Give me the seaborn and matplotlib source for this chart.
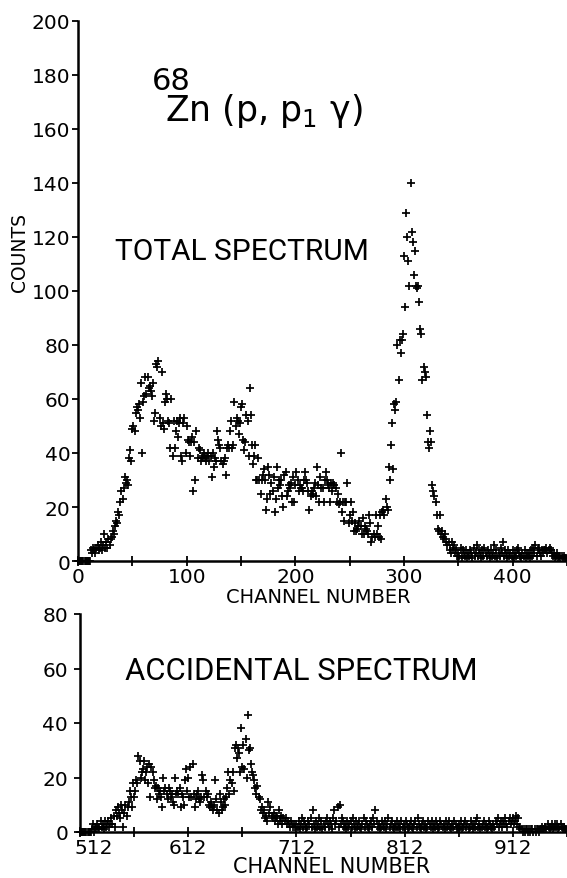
import matplotlib
matplotlib.use("Agg")
import matplotlib.pyplot as plt
import matplotlib.transforms as mtransforms
import seaborn as sns
import pandas as pd
import numpy as np
from matplotlib.ticker import FixedLocator

# ---------------- data ----------------
total_start = 0
total_counts = [
    0,0,0,0,0,0,0,0,0,0,
    0,0,4,3,5,4,3,5,6,4,
    5,7,4,6,10,5,7,5,8,6,
    8,9,11,10,13,15,14,18,17,22,
    26,23,27,31,29,30,28,38,41,37,
    49,50,48,55,57,56,58,53,66,40,
    59,61,68,62,68,64,65,63,61,66,
    52,55,73,72,74,53,50,70,51,49,
    59,62,60,52,51,42,60,39,52,42,
    48,52,46,51,53,39,37,51,53,40,
    50,45,44,39,44,46,26,44,30,48,
    38,42,41,37,38,39,40,38,37,39,
    40,37,39,31,40,35,38,37,48,45,
    43,42,37,36,37,38,32,42,43,42,
    48,52,42,43,59,50,53,52,47,51,
    57,58,45,41,44,54,52,39,64,54,
    43,36,39,43,30,30,38,30,25,30,
    32,34,30,19,23,35,32,25,29,26,
    31,18,23,35,27,30,28,30,24,20,
    32,33,24,26,28,27,29,22,31,22,
    28,33,30,26,28,27,27,26,30,33,
    30,29,26,19,24,26,25,27,29,24,
    35,28,22,31,27,27,22,30,33,30,
    28,27,22,29,26,29,28,27,22,25,
    21,22,40,18,22,15,22,22,29,14,
    17,22,15,18,11,14,11,12,13,15,
    13,10,16,10,13,12,11,10,17,14,
    7,9,10,9,17,10,13,9,17,8,
    18,19,17,23,20,19,35,30,43,51,
    34,58,56,59,80,67,82,77,82,84,
    113,94,129,120,111,102,140,122,118,106,
    115,102,101,102,96,86,84,67,72,70,
    68,54,44,42,48,44,28,26,24,22,
    17,12,11,17,10,11,9,8,10,7,
    6,7,4,3,7,5,6,3,4,2,
    3,2,5,1,4,3,2,4,1,3,
    2,4,3,1,5,2,3,6,2,4,
    3,1,4,2,5,3,2,4,3,1,
    4,2,3,6,2,4,1,3,2,5,
    3,7,2,4,3,1,4,2,3,2,
    4,1,3,2,4,5,3,2,1,3,
    2,4,1,3,2,3,1,4,2,5,
    3,6,2,4,5,3,2,4,3,4,
    4,5,3,4,5,4,3,2,3,1,
    2,3,1,2,1,2,1,2,1,1,
]

accidental_start = 512
accidental_counts = [
    0,0,0,0,0,0,0,0,0,0,
    0,1,3,0,2,1,3,2,1,4,
    2,3,1,4,2,3,4,2,3,5,
    3,6,2,8,6,9,7,5,10,8,
    2,7,10,6,9,11,15,13,9,18,
    13,15,19,18,28,26,20,22,23,26,
    19,22,24,18,25,13,24,22,19,16,
    17,12,16,14,15,13,9,20,15,16,
    14,12,16,15,13,14,11,10,20,14,
    15,14,16,9,14,13,10,19,23,15,
    20,13,24,13,25,14,9,12,14,15,
    12,11,13,21,19,13,15,13,14,10,
    9,11,9,8,10,19,12,8,7,14,
    11,8,9,12,10,13,16,22,14,19,
    18,22,15,31,32,27,31,29,22,38,
    24,32,23,34,20,43,30,31,25,22,
    21,19,16,14,17,13,12,8,9,7,
    8,5,6,4,11,7,9,6,5,7,
    4,6,5,3,8,4,6,3,5,4,
    5,3,4,3,2,4,3,2,3,2,
    3,2,4,1,3,5,2,4,3,1,
    2,4,3,5,2,8,3,1,4,2,
    3,5,2,4,1,3,2,4,5,3,
    2,4,3,1,5,8,3,4,9,2,
    10,3,5,4,2,3,1,4,2,3,
    4,2,5,3,1,4,2,3,4,2,
    1,3,5,2,4,3,2,1,3,4,
    2,5,3,8,4,2,3,1,2,4,
    3,2,4,1,3,5,2,3,4,2,
    1,3,2,4,2,3,1,4,2,3,
    2,4,3,1,2,3,4,2,1,3,
    4,2,5,3,2,1,3,4,2,3,
    1,2,4,3,2,4,1,3,2,4,
    3,1,2,4,3,2,3,1,4,2,
    3,4,2,1,3,2,4,3,1,2,
    3,2,4,1,2,3,4,2,3,1,
    2,4,3,1,3,2,4,5,2,3,
    1,2,3,4,2,3,1,2,4,3,
    2,1,3,2,4,3,5,2,3,4,
    2,4,3,5,3,2,4,5,3,4,
    5,3,4,6,3,5,2,1,1,0,
    1,0,1,1,0,1,0,1,1,0,
    1,0,1,1,0,1,1,2,1,1,
    2,1,3,2,1,2,3,1,2,3,
    2,3,1,2,3,2,1,2,1,1,
]

top_xticks = [0, 100, 200, 300, 400]
bot_xticks = [512, 612, 712, 812, 912]
top_yticks = [0, 20, 40, 60, 80, 100, 120, 140, 160, 180, 200]
bot_yticks = [0, 20, 40, 60, 80]

df_top = pd.DataFrame({"channel": np.arange(total_start, total_start + len(total_counts)),
                       "counts": total_counts})
df_bot = pd.DataFrame({"channel": np.arange(accidental_start, accidental_start + len(accidental_counts)),
                       "counts": accidental_counts})

# ---------------- figure ----------------
sns.set_theme(style="ticks")
plt.rcParams["font.family"] = ["DejaVu Sans"]
plt.rcParams["text.color"] = "black"
plt.rcParams["axes.labelcolor"] = "black"
plt.rcParams["xtick.color"] = "black"
plt.rcParams["ytick.color"] = "black"
plt.rcParams["mathtext.default"] = "regular"

W, H = 567, 879
fig = plt.figure(figsize=(W / 100, H / 100), dpi=100)

ax1 = fig.add_axes([78 / W, 1 - 562 / H, (W - 78) / W, 540 / H])
ax2 = fig.add_axes([80 / W, 1 - 833 / H, (W - 80) / W, 218 / H])

mk = dict(marker="+", color="black", s=32, linewidth=1.25, legend=False, clip_on=False)
sns.scatterplot(data=df_top, x="channel", y="counts", ax=ax1, **mk)
sns.scatterplot(data=df_bot, x="channel", y="counts", ax=ax2, **mk)

def style(ax, xlim, ylim, xticks, yticks, minor_step, ypad):
    ax.set_xlim(*xlim)
    ax.set_ylim(*ylim)
    for s in ("top", "right"):
        ax.spines[s].set_visible(False)
    for s in ("left", "bottom"):
        ax.spines[s].set_linewidth(1.8)
        ax.spines[s].set_color("black")
    ax.xaxis.set_major_locator(FixedLocator(xticks))
    ax.xaxis.set_minor_locator(FixedLocator([t + minor_step for t in xticks]))
    ax.yaxis.set_major_locator(FixedLocator(yticks))
    ax.tick_params(axis="x", which="both", direction="inout", length=7, width=1.3,
                   labelsize=14.5, pad=1, colors="black")
    ax.tick_params(axis="y", which="major", direction="out", length=4, width=1.3,
                   labelsize=14.5, pad=ypad, colors="black")
    ax.set_ylabel("")

style(ax1, (0, 450), (0, 200), top_xticks, top_yticks, 50, 1.5)
style(ax2, (512, 962), (0, 80), bot_xticks, bot_yticks, 50, 4.5)

# first bottom x label sits a little to the right of its tick (as in the original)
fig.canvas.draw()
lab0 = ax2.get_xticklabels()[0]
lab0.set_ha("left")
lab0.set_transform(lab0.get_transform() + mtransforms.ScaledTranslation(-5 / 100, 0, fig.dpi_scale_trans))

ax1.set_xlabel("CHANNEL NUMBER", fontsize=14)
ax1.xaxis.set_label_coords(0.491, -0.065)
ax1.xaxis.label.set_va("center")
ax2.set_xlabel("CHANNEL NUMBER", fontsize=15)
ax2.xaxis.set_label_coords(0.517, -0.158)
ax2.xaxis.label.set_va("center")

ax1.set_ylabel("COUNTS", fontsize=13.5)
ax1.yaxis.set_label_coords(-0.119, 0.574)
ax1.yaxis.label.set_va("center")

cond = ["Roboto", "DejaVu Sans"]
fig.text(152 / W, 1 - 90 / H, "68", fontsize=22, family="DejaVu Sans", va="baseline")
fig.text(165 / W, 1 - 121 / H, "Zn (p, p$_1$ γ)", fontsize=25, family="DejaVu Sans",
         va="baseline")

fig.text(115 / W, 1 - 260 / H, "TOTAL SPECTRUM", fontsize=21.5, family=cond, va="baseline")
fig.text(125 / W, 1 - 680 / H, "ACCIDENTAL SPECTRUM", fontsize=22.3, family=cond, va="baseline")

fig.savefig("out.png", dpi=100)
